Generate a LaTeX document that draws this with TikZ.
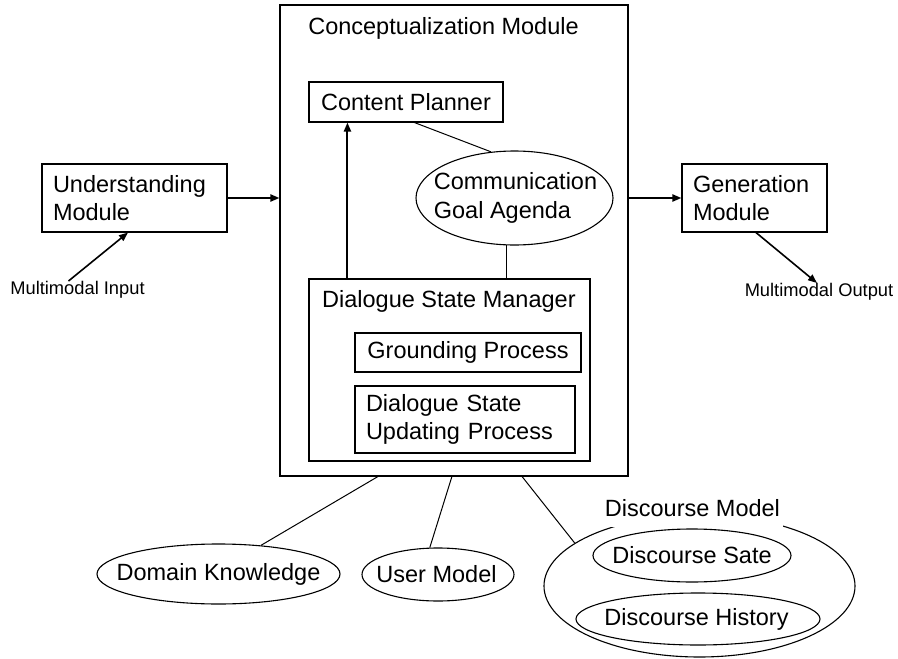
\documentclass[tikz,border=0pt]{standalone}
\usepackage{fontspec}
\setmainfont{Liberation Sans}
\usetikzlibrary{shapes.geometric,arrows.meta,calc}
\begin{document}
\begin{tikzpicture}[x=1pt,y=-1pt,
  every node/.style={font=\fontsize{23.5}{28.5}\selectfont},
  box/.style={draw,line width=1.1pt,rectangle,inner sep=0pt},
  oval/.style={draw,line width=1.1pt,ellipse,inner sep=0pt},
  link/.style={line width=1pt},
  arr/.style={line width=2pt,-{Triangle[length=9pt,width=7pt]}},
  small/.style={font=\fontsize{18.3}{21}\selectfont,inner sep=0pt}
]
\useasboundingbox (0,0) rectangle (898,659);

% outer module and its title
\node[box,minimum width=348pt,minimum height=471pt] (cm) at (454,240.5) {};
\node[anchor=base,inner sep=0pt] (cmtitle) at (443.5,34) {Conceptualization Module};

% side modules
\node[box,minimum width=185pt,minimum height=68pt,text width=163pt,align=left,inner xsep=11pt]
  (und) at (134.5,198) {Understanding\\Module};
\node[box,minimum width=145pt,minimum height=68pt,text width=123pt,align=left,inner xsep=11pt]
  (gen) at (754.5,198) {Generation\\Module};
\node[small,anchor=north] (mi) at (77.5,281) {Multimodal Input};
\node[small,anchor=north] (mo) at (819,283) {Multimodal Output};

% inside the conceptualization module
\node[box,minimum width=194pt,minimum height=40pt] (cp) at (406,102) {Content Planner};
\node[oval,minimum width=197pt,minimum height=94pt,
  label={[align=left,inner sep=0pt,xshift=1pt]center:Communication\\Goal Agenda}] (cga) at (514.5,198) {};
\node[box,minimum width=281pt,minimum height=182pt] (dsm) at (449.5,370) {};
\node[anchor=base west,inner sep=0pt] (dsmtitle) at (322,307.5) {Dialogue State Manager};
\node[box,minimum width=226pt,minimum height=39pt] (gp) at (468,352.5) {Grounding Process};
\node[box,minimum width=220pt,minimum height=67pt,text width=198pt,align=left,inner xsep=11pt]
  (dsup) at (465,419.5) {Dialogue State\\Updating Process};

% knowledge sources
\node[oval,minimum width=243pt,minimum height=60pt,
  label={[inner sep=0pt]center:Domain Knowledge}] (dk) at (218.5,574) {};
\node[oval,minimum width=152pt,minimum height=53pt,
  label={[inner sep=0pt,xshift=-1.5pt]center:User Model}] (usr) at (438,574.5) {};
\node[oval,minimum width=311pt,minimum height=142pt] (dm) at (699.5,586) {};
\node[fill=white,inner xsep=3pt,inner ysep=11pt,anchor=base] (dmlabel) at (692.5,516) {Discourse Model};
\node[oval,minimum width=198pt,minimum height=53pt,
  label={[inner sep=0pt]center:Discourse Sate}] (ds) at (692,555.5) {};
\node[oval,minimum width=244pt,minimum height=52pt,
  label={[inner sep=0pt,xshift=-1.5pt]center:Discourse History}] (dh) at (698,619) {};

% data flow
\draw[arr] (und.east) -- (cm.west |- und.east);
\draw[arr] (cm.east |- gen.west) -- (gen.west);
\draw[arr,line width=1.6pt] ([xshift=-9pt]mi.north) -- ([xshift=-6.5pt]und.south);
\draw[arr,line width=1.6pt] ([xshift=1.5pt]gen.south) -- ([xshift=-2pt]mo.north);
\draw[arr] ([xshift=39pt]dsm.north west) -- ([xshift=39pt]cp.south west);

% associations
\draw[link] ([xshift=106pt]cp.south west) -- (cga.117);
\draw[link] (cga.261) -- (cga.261 |- dsm.north);
\draw[link] ($(cm.south west)!0.282!(cm.south east)$) -- (dk.34);
\draw[link] ($(cm.south west)!0.494!(cm.south east)$) -- (usr.107);
\draw[link] ($(cm.south west)!0.695!(cm.south east)$) -- (dm.161);
\end{tikzpicture}
\end{document}
